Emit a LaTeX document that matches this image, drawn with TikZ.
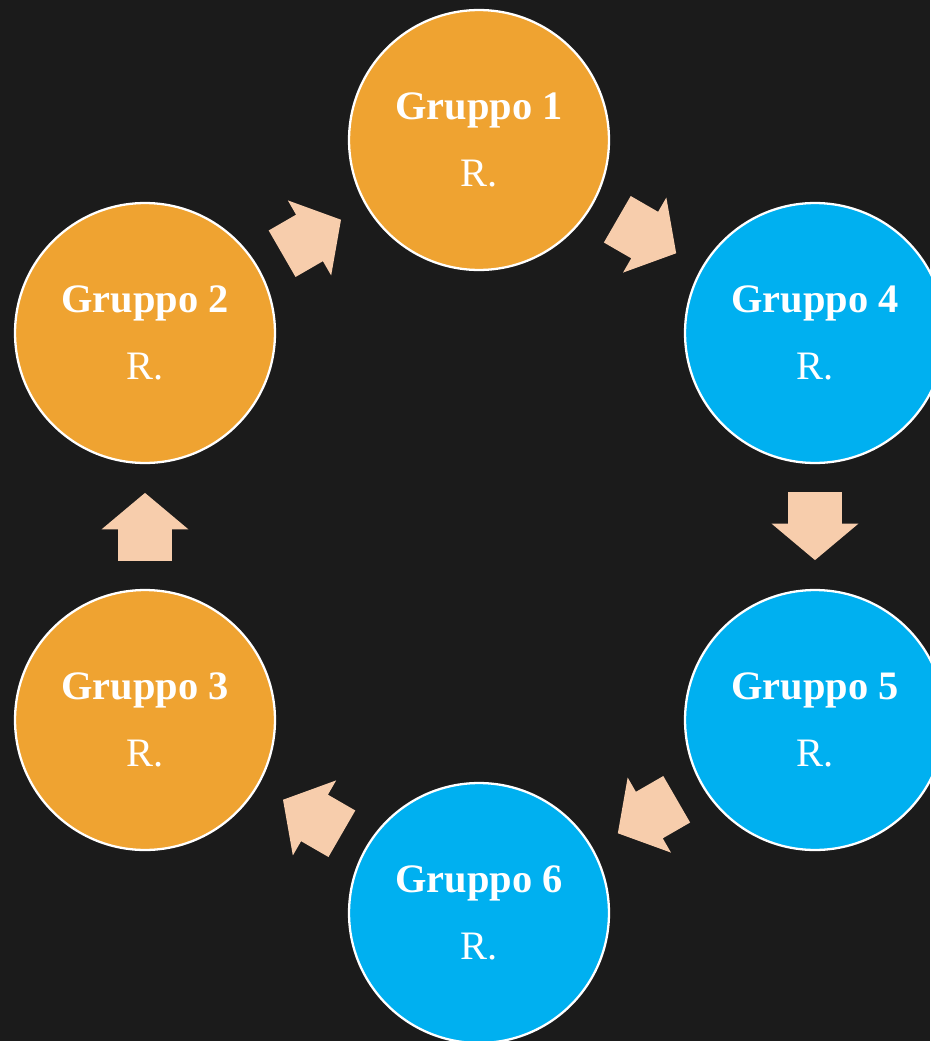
\documentclass[tikz,border=0pt]{standalone}
\usepackage{fontspec}
\setmainfont{Liberation Serif}
\usetikzlibrary{calc,shapes.arrows}

\definecolor{bgblack}{RGB}{27,27,27}
\definecolor{gorange}{RGB}{239,163,49}
\definecolor{gblue}{RGB}{0,176,240}
\definecolor{gpeach}{RGB}{247,205,172}

\tikzset{
  gruppo/.style={circle,draw=white,line width=1.3pt,minimum size=5.2cm,inner sep=0pt,
    text=white,align=center,font=\fontsize{23}{38}\selectfont},
  freccia/.style={single arrow,fill=gpeach,inner xsep=0pt,inner ysep=0.53cm,minimum height=1.36cm,
    single arrow head extend=0.33cm,single arrow tip angle=100,anchor=tip}
}

\begin{document}
\begin{tikzpicture}[x=0.02cm,y=-0.02cm]
		\fill[bgblack] (0,0) rectangle (930,1041);
		\useasboundingbox (0,0) rectangle (930,1041);
		
		\node[gruppo,fill=gorange] (g1) at (479,140) {\textbf{Gruppo 1}\\R.};
		\node[gruppo,fill=gorange] (g2) at (145,333) {\textbf{Gruppo 2}\\R.};
		\node[gruppo,fill=gorange] (g3) at (145,720) {\textbf{Gruppo 3}\\R.};
		\node[gruppo,fill=gblue] (g4) at (815,333) {\textbf{Gruppo 4}\\R.};
		\node[gruppo,fill=gblue] (g5) at (815,720) {\textbf{Gruppo 5}\\R.};
		\node[gruppo,fill=gblue] (g6) at (479,913) {\textbf{Gruppo 6}\\R.};
		
		% frecce fra i gruppi (punta poco oltre il punto medio)
		\node[freccia,rotate=-30] (f14) at ($ (g1)!.588!(g4) $) {};
		\node[freccia,rotate=-90] (f45) at ($ (g4)!.588!(g5) $) {};
		\node[freccia,rotate=-150] (f56) at ($ (g5)!.588!(g6) $) {};
		\node[freccia,rotate=150] (f63) at ($ (g6)!.588!(g3) $) {};
		\node[freccia,rotate=90] (f32) at ($ (g3)!.588!(g2) $) {};
		\node[freccia,rotate=30] (f21) at ($ (g2)!.588!(g1) $) {};
\end{tikzpicture}
\end{document}
